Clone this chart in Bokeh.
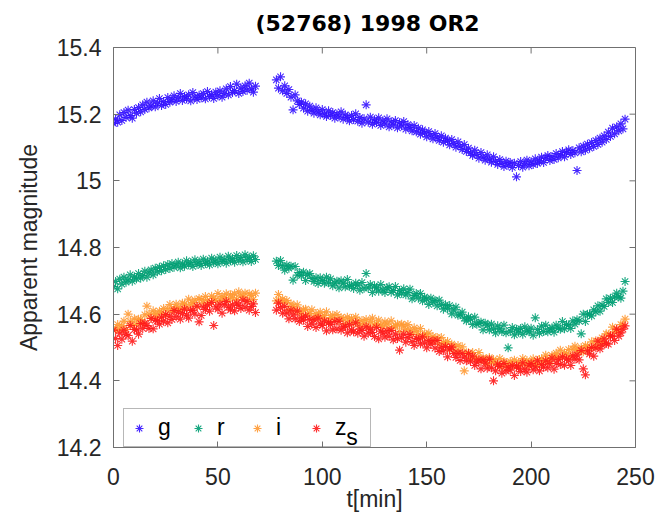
import math
from bokeh.plotting import figure
from bokeh.models import (FixedTicker, CustomJSTickFormatter, Legend,
                          LegendItem, Label, Range1d)
from bokeh.embed import file_html
from bokeh.resources import INLINE

# ---------------- data ----------------
T_MIN = [0, 1, 2, 3, 4, 5, 6, 7, 8, 9, 10, 11, 12, 13, 14, 15, 16, 17, 18, 19,
         20, 21, 22, 23, 24, 25, 26, 27, 28, 29, 30, 31, 32, 33, 34, 35, 36, 37, 38, 39,
         40, 41, 42, 43, 44, 45, 46, 47, 48, 49, 50, 51, 52, 53, 54, 55, 56, 57, 58, 59,
         60, 61, 62, 63, 64, 65, 66, 67, 68,
         78, 79, 80, 81, 82, 83, 84, 85, 86, 87, 88, 89, 90, 91, 92, 93, 94, 95, 96, 97,
         98, 99, 100, 101, 102, 103, 104, 105, 106, 107, 108, 109, 110, 111, 112, 113, 114, 115, 116, 117,
         118, 119, 120, 121, 122, 123, 124, 125, 126, 127, 128, 129, 130, 131, 132, 133, 134, 135, 136, 137,
         138, 139, 140, 141, 142, 143, 144, 145, 146, 147, 148, 149, 150, 151, 152, 153, 154, 155, 156, 157,
         158, 159, 160, 161, 162, 163, 164, 165, 166, 167, 168, 169, 170, 171, 172, 173, 174, 175, 176, 177,
         178, 179, 180, 181, 182, 183, 184, 185, 186, 187, 188, 189, 190, 191, 192, 193, 194, 195, 196, 197,
         198, 199, 200, 201, 202, 203, 204, 205, 206, 207, 208, 209, 210, 211, 212, 213, 214, 215, 216, 217,
         218, 219, 220, 221, 222, 223, 224, 225, 226, 227, 228, 229, 230, 231, 232, 233, 234, 235, 236, 237,
         238, 239, 240, 241, 242, 243, 244, 245]

G_MAG = [15.172, 15.185, 15.176, 15.198, 15.181, 15.205, 15.190, 15.212, 15.196, 15.188,
         15.214, 15.203, 15.220, 15.207, 15.228, 15.214, 15.236, 15.219, 15.225, 15.240,
         15.222, 15.233, 15.247, 15.226, 15.238, 15.229, 15.250, 15.236, 15.243, 15.255,
         15.238, 15.249, 15.262, 15.241, 15.253, 15.246, 15.258, 15.240, 15.265, 15.251,
         15.244, 15.257, 15.249, 15.262, 15.246, 15.268, 15.253, 15.259, 15.247, 15.266,
         15.255, 15.270, 15.251, 15.262, 15.276, 15.258, 15.283, 15.265, 15.271, 15.290,
         15.262, 15.278, 15.268, 15.285, 15.272, 15.293, 15.276, 15.266, 15.284,
         15.303, 15.278, 15.312, 15.270, 15.285, 15.262, 15.274, 15.251, 15.213, 15.258,
         15.240, 15.229, 15.236, 15.218, 15.231, 15.209, 15.224, 15.212, 15.203, 15.219,
         15.207, 15.198, 15.214, 15.201, 15.193, 15.210, 15.196, 15.205, 15.188, 15.200,
         15.192, 15.207, 15.185, 15.198, 15.190, 15.180, 15.196, 15.184, 15.201, 15.179,
         15.190, 15.173, 15.186, 15.228, 15.176, 15.191, 15.170, 15.183, 15.175, 15.189,
         15.166, 15.180, 15.171, 15.186, 15.162, 15.177, 15.168, 15.181, 15.159, 15.174,
         15.165, 15.178, 15.155, 15.169, 15.160, 15.150, 15.166, 15.147, 15.158, 15.140,
         15.153, 15.144, 15.132, 15.148, 15.137, 15.126, 15.142, 15.131, 15.121, 15.135,
         15.116, 15.128, 15.120, 15.108, 15.124, 15.112, 15.101, 15.117, 15.104, 15.094,
         15.109, 15.088, 15.098, 15.084, 15.076, 15.092, 15.079, 15.068, 15.085, 15.071,
         15.062, 15.078, 15.065, 15.056, 15.072, 15.058, 15.049, 15.064, 15.052, 15.043,
         15.059, 15.047, 15.055, 15.040, 15.053, 15.012, 15.046, 15.058, 15.041, 15.051,
         15.062, 15.045, 15.057, 15.049, 15.066, 15.052, 15.060, 15.071, 15.055, 15.068,
         15.076, 15.061, 15.073, 15.064, 15.082, 15.069, 15.078, 15.088, 15.072, 15.085,
         15.093, 15.079, 15.091, 15.084, 15.031, 15.099, 15.087, 15.104, 15.092, 15.110,
         15.098, 15.115, 15.103, 15.121, 15.109, 15.128, 15.116, 15.135, 15.124, 15.146,
         15.133, 15.158, 15.141, 15.162, 15.150, 15.171, 15.156, 15.185]

R_MAG = [14.683, 14.698, 14.676, 14.705, 14.690, 14.711, 14.696, 14.703, 14.718, 14.699,
         14.712, 14.706, 14.722, 14.708, 14.716, 14.729, 14.711, 14.724, 14.733, 14.718,
         14.738, 14.727, 14.741, 14.730, 14.745, 14.734, 14.749, 14.737, 14.752, 14.741,
         14.747, 14.756, 14.739, 14.751, 14.744, 14.760, 14.748, 14.755, 14.743, 14.763,
         14.750, 14.757, 14.746, 14.765, 14.752, 14.759, 14.748, 14.768, 14.755, 14.762,
         14.751, 14.771, 14.758, 14.764, 14.753, 14.774, 14.760, 14.767, 14.756, 14.776,
         14.762, 14.770, 14.757, 14.778, 14.763, 14.771, 14.758, 14.775, 14.764,
         14.759, 14.746, 14.761, 14.745, 14.732, 14.747, 14.738, 14.744, 14.702, 14.743,
         14.717, 14.725, 14.716, 14.726, 14.701, 14.718, 14.722, 14.707, 14.698, 14.709,
         14.692, 14.709, 14.701, 14.693, 14.711, 14.694, 14.706, 14.685, 14.693, 14.699,
         14.679, 14.700, 14.693, 14.682, 14.704, 14.684, 14.687, 14.677, 14.693, 14.687,
         14.672, 14.695, 14.678, 14.722, 14.679, 14.689, 14.665, 14.685, 14.679, 14.669,
         14.689, 14.673, 14.665, 14.679, 14.682, 14.666, 14.671, 14.683, 14.658, 14.671,
         14.663, 14.676, 14.658, 14.665, 14.675, 14.646, 14.656, 14.662, 14.648, 14.662,
         14.640, 14.651, 14.645, 14.629, 14.648, 14.636, 14.641, 14.625, 14.642, 14.629,
         14.615, 14.628, 14.617, 14.626, 14.601, 14.613, 14.621, 14.597, 14.598, 14.606,
         14.588, 14.580, 14.592, 14.585, 14.569, 14.591, 14.570, 14.573, 14.576, 14.553,
         14.573, 14.567, 14.553, 14.570, 14.556, 14.544, 14.565, 14.556, 14.548, 14.567,
         14.544, 14.499, 14.549, 14.560, 14.538, 14.555, 14.546, 14.557, 14.540, 14.562,
         14.550, 14.547, 14.558, 14.537, 14.589, 14.554, 14.543, 14.564, 14.548, 14.567,
         14.547, 14.555, 14.559, 14.546, 14.567, 14.558, 14.555, 14.578, 14.556, 14.569,
         14.567, 14.557, 14.580, 14.570, 14.583, 14.580, 14.541, 14.600, 14.578, 14.600,
         14.600, 14.595, 14.613, 14.607, 14.625, 14.609, 14.627, 14.623, 14.646, 14.635,
         14.648, 14.635, 14.651, 14.663, 14.652, 14.648, 14.669, 14.698]

I_MAG = [14.558, 14.553, 14.569, 14.554, 14.565, 14.579, 14.554, 14.600, 14.578, 14.568,
         14.586, 14.569, 14.585, 14.584, 14.573, 14.598, 14.624, 14.600, 14.588, 14.610,
         14.601, 14.592, 14.609, 14.603, 14.617, 14.598, 14.615, 14.629, 14.610, 14.617,
         14.630, 14.618, 14.615, 14.633, 14.630, 14.619, 14.645, 14.628, 14.635, 14.642,
         14.623, 14.647, 14.644, 14.634, 14.653, 14.641, 14.631, 14.654, 14.647, 14.641,
         14.662, 14.641, 14.653, 14.649, 14.661, 14.640, 14.658, 14.649, 14.661, 14.644,
         14.667, 14.655, 14.652, 14.663, 14.641, 14.661, 14.656, 14.644, 14.663,
         14.640, 14.659, 14.640, 14.645, 14.635, 14.641, 14.614, 14.631, 14.623, 14.611,
         14.628, 14.610, 14.600, 14.613, 14.615, 14.598, 14.602, 14.613, 14.588, 14.601,
         14.593, 14.606, 14.588, 14.596, 14.607, 14.579, 14.590, 14.597, 14.584, 14.599,
         14.578, 14.590, 14.585, 14.570, 14.591, 14.580, 14.587, 14.572, 14.591, 14.579,
         14.567, 14.581, 14.572, 14.584, 14.562, 14.577, 14.588, 14.567, 14.571, 14.582,
         14.567, 14.562, 14.577, 14.571, 14.557, 14.580, 14.561, 14.565, 14.570, 14.548,
         14.570, 14.565, 14.553, 14.569, 14.553, 14.540, 14.559, 14.549, 14.539, 14.557,
         14.532, 14.541, 14.534, 14.543, 14.518, 14.533, 14.521, 14.530, 14.510, 14.530,
         14.515, 14.510, 14.518, 14.493, 14.510, 14.503, 14.489, 14.506, 14.487, 14.502,
         14.430, 14.484, 14.484, 14.467, 14.485, 14.472, 14.466, 14.485, 14.460, 14.469,
         14.464, 14.450, 14.470, 14.455, 14.464, 14.456, 14.447, 14.467, 14.441, 14.458,
         14.454, 14.444, 14.458, 14.448, 14.462, 14.442, 14.456, 14.448, 14.467, 14.452,
         14.461, 14.444, 14.456, 14.466, 14.452, 14.446, 14.464, 14.466, 14.457, 14.477,
         14.465, 14.457, 14.476, 14.472, 14.483, 14.471, 14.492, 14.471, 14.484, 14.480,
         14.494, 14.474, 14.495, 14.504, 14.492, 14.487, 14.500, 14.487, 14.506, 14.502,
         14.496, 14.517, 14.502, 14.520, 14.504, 14.518, 14.529, 14.515, 14.541, 14.540,
         14.534, 14.561, 14.546, 14.554, 14.549, 14.569, 14.568, 14.585]

Z_MAG = [14.552, 14.527, 14.506, 14.543, 14.525, 14.552, 14.539, 14.536, 14.566, 14.519,
         14.554, 14.553, 14.540, 14.572, 14.557, 14.573, 14.566, 14.557, 14.587, 14.556,
         14.582, 14.580, 14.570, 14.591, 14.579, 14.599, 14.574, 14.594, 14.584, 14.611,
         14.592, 14.606, 14.585, 14.602, 14.615, 14.597, 14.588, 14.611, 14.612, 14.600,
         14.624, 14.577, 14.596, 14.621, 14.614, 14.627, 14.609, 14.635, 14.566, 14.622,
         14.615, 14.630, 14.603, 14.628, 14.638, 14.621, 14.613, 14.628, 14.610, 14.633,
         14.626, 14.617, 14.642, 14.621, 14.638, 14.612, 14.623, 14.631, 14.605,
         14.612, 14.633, 14.620, 14.603, 14.623, 14.603, 14.586, 14.612, 14.598, 14.586,
         14.609, 14.578, 14.589, 14.582, 14.594, 14.563, 14.584, 14.570, 14.583, 14.560,
         14.588, 14.571, 14.566, 14.579, 14.550, 14.575, 14.569, 14.553, 14.578, 14.556,
         14.579, 14.552, 14.561, 14.564, 14.544, 14.569, 14.553, 14.547, 14.574, 14.543,
         14.556, 14.551, 14.534, 14.562, 14.543, 14.555, 14.545, 14.533, 14.560, 14.526,
         14.549, 14.544, 14.531, 14.549, 14.534, 14.551, 14.523, 14.540, 14.527, 14.492,
         14.529, 14.540, 14.516, 14.530, 14.539, 14.518, 14.506, 14.527, 14.525, 14.511,
         14.532, 14.514, 14.499, 14.521, 14.510, 14.520, 14.498, 14.521, 14.488, 14.501,
         14.490, 14.503, 14.472, 14.495, 14.501, 14.482, 14.470, 14.483, 14.461, 14.482,
         14.471, 14.460, 14.482, 14.459, 14.474, 14.446, 14.456, 14.463, 14.436, 14.463,
         14.453, 14.438, 14.465, 14.439, 14.400, 14.430, 14.450, 14.443, 14.423, 14.452,
         14.430, 14.441, 14.432, 14.446, 14.416, 14.445, 14.438, 14.428, 14.454, 14.435,
         14.426, 14.447, 14.452, 14.433, 14.442, 14.460, 14.430, 14.449, 14.441, 14.460,
         14.439, 14.452, 14.468, 14.435, 14.452, 14.464, 14.449, 14.472, 14.447, 14.466,
         14.462, 14.446, 14.475, 14.465, 14.478, 14.463, 14.491, 14.436, 14.418, 14.490,
         14.481, 14.500, 14.474, 14.499, 14.519, 14.496, 14.507, 14.526, 14.512, 14.510,
         14.535, 14.534, 14.521, 14.555, 14.534, 14.544, 14.555, 14.565]

BANDS = ["g", "r", "i", "z"]
BAND_MAGS = [G_MAG, R_MAG, I_MAG, Z_MAG]
BAND_COLORS = ["#3311ff", "#009e73", "#ff9933", "#ff1a1a"]
Z_SUBSCRIPT = "s"

X_TICKS = [0, 50, 100, 150, 200, 250]
Y_TICKS = [14.2, 14.4, 14.6, 14.8, 15.0, 15.2, 15.4]

TITLE = "(52768) 1998 OR2"
X_LABEL = "t[min]"
Y_LABEL = "Apparent magnitude"

# ---------------- figure ----------------
FONT = "Liberation Sans"
AX_COLOR = "#707070"
TXT_COLOR = "#262626"
X_LO, X_HI = X_TICKS[0], X_TICKS[-1]
Y_LO, Y_HI = Y_TICKS[0], Y_TICKS[-1]

p = figure(width=669, height=516,
           x_range=Range1d(X_LO, X_HI), y_range=Range1d(Y_LO, Y_HI),
           output_backend="svg", toolbar_location=None,
           min_border_left=113, min_border_right=34,
           min_border_top=47, min_border_bottom=69,
           x_axis_label=X_LABEL, y_axis_label=Y_LABEL)

p.title.text = TITLE
p.title.align = "left"
p.title.offset = 142
p.title.vertical_align = "top"
p.title.standoff = 19
p.title.text_font = "DejaVu Sans"
p.title.text_font_size = "22px"
p.title.text_font_style = "bold"
p.title.text_color = "black"

p.xgrid.visible = False
p.ygrid.visible = False
p.outline_line_color = AX_COLOR
p.outline_line_width = 1
p.background_fill_color = "white"
p.border_fill_color = "white"

fmt = CustomJSTickFormatter(code="return (Math.round(tick*10)/10).toString();")


def style_axis(ax, ticks):
    ax.ticker = FixedTicker(ticks=ticks)
    ax.axis_line_color = AX_COLOR
    ax.axis_line_width = 1
    ax.major_tick_line_color = AX_COLOR
    ax.major_tick_in = 6
    ax.major_tick_out = 0
    ax.minor_tick_line_color = None
    ax.major_label_text_font = FONT
    ax.major_label_text_color = TXT_COLOR
    ax.major_label_text_font_size = "23px"
    ax.axis_label_text_font = FONT
    ax.axis_label_text_font_size = "23px"
    ax.axis_label_text_font_style = "normal"
    ax.axis_label_text_color = TXT_COLOR


xa = p.xaxis[0]
ya = p.yaxis[0]
style_axis(xa, X_TICKS)
style_axis(ya, Y_TICKS)
ya.formatter = fmt
xa.major_label_standoff = 20
xa.axis_label_standoff = -2
ya.major_label_standoff = 12
ya.axis_label_standoff = 12

# inward ticks on the top and right edges of the box
p.ray(x=X_TICKS, y=[Y_HI] * len(X_TICKS), length=6, angle=-math.pi / 2,
      length_units="screen", line_color=AX_COLOR, line_width=1)
p.ray(x=[X_HI] * len(Y_TICKS), y=Y_TICKS, length=6, angle=math.pi,
      length_units="screen", line_color=AX_COLOR, line_width=1)

renderers = []
for band, mags, col in zip(BANDS, BAND_MAGS, BAND_COLORS):
    r = p.scatter(T_MIN, mags, marker="asterisk", size=9,
                  line_color=col, line_alpha=0.9, line_width=1.1)
    renderers.append(r)

legend = Legend(items=[LegendItem(label=b, renderers=[r]) for b, r in zip(BANDS, renderers)],
                orientation="horizontal", location=(10, 0), margin=0,
                padding=5, spacing=0, glyph_width=20, glyph_height=20,
                label_standoff=9, label_width=30,
                label_text_font=FONT, label_text_font_size="23px",
                label_text_color="black",
                border_line_color=AX_COLOR, border_line_width=1,
                background_fill_alpha=0)
p.add_layout(legend)

sub = Label(x=111.5, y=14.233, text=Z_SUBSCRIPT,
            text_font=FONT, text_font_size="23px", text_color="black",
            text_baseline="middle", text_align="left")
p.add_layout(sub)

open("out.html", "w").write(file_html(p, INLINE))
